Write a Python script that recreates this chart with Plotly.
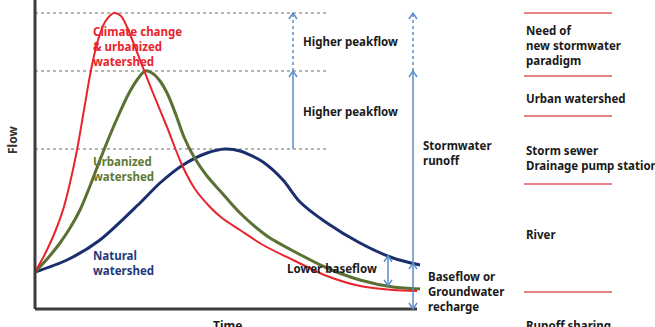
import numpy as np
import plotly.graph_objects as go

# ---- data (time, flow) ----
red_t = [0, 10, 20, 28, 35, 42, 49, 56, 63, 70, 79, 86, 92, 105, 118, 132, 147, 160, 175, 187, 205, 228, 258, 292, 325, 358, 382]
red_f = [37, 55, 77, 99, 126, 159, 199, 239, 269, 287, 296, 293, 282, 249, 216, 182, 144, 120, 102, 91, 79, 64, 49, 33, 23, 19, 18]

green_t = [0, 13, 25, 35, 45, 55, 65, 75, 85, 93, 102, 110, 117, 125, 133, 141, 149, 159, 172, 187, 205, 232, 262, 292, 325, 358, 385]
green_f = [37, 51, 66, 81, 99, 123, 149, 174, 197, 214, 229, 238, 236, 228, 214, 194, 172, 152, 133, 116, 96, 73, 56, 41, 29, 22, 20]

blue_t = [0, 32, 65, 105, 125, 148, 172, 190, 205, 228, 248, 265, 292, 325, 358, 385]
blue_f = [37, 49, 69, 106, 126, 144, 156, 160, 158, 147, 129, 107, 86, 66, 51, 44]

series_names = ["Climate change<br>& urbanized<br>watershed", "Urbanized<br>watershed", "Natural<br>watershed"]
right_labels = ["Need of<br>new stormwater<br>paradigm", "Urban watershed",
                "Storm sewer<br>Drainage pump station", "River"]
right_label_flow = [263.5, 211, 151.5, 75]
bottom_right_label = "Runoff sharing"
sep_flow = [296, 233, 193, 125, 17]

RED = "#e8232b"
GREEN = "#5b7033"
BLUE = "#1b2f6e"
ARROW = "#5b8dc8"
AX = "#3c3c3c"
FONT = "Noto Sans"

fig = go.Figure()

sm = 0.8
fig.add_trace(go.Scatter(x=blue_t, y=blue_f, mode="lines", line=dict(color=BLUE, width=3, shape="spline", smoothing=sm), hoverinfo="skip"))
fig.add_trace(go.Scatter(x=green_t, y=green_f, mode="lines", line=dict(color=GREEN, width=3, shape="spline", smoothing=sm), hoverinfo="skip"))
fig.add_trace(go.Scatter(x=red_t, y=red_f, mode="lines", line=dict(color=RED, width=2, shape="spline", smoothing=sm), hoverinfo="skip"))

red_pk, green_pk, blue_pk = max(red_f), max(green_f), max(blue_f)
t_end = max(red_t)

shapes = []
shapes.append(dict(type="line", x0=0, x1=t_end, y0=0, y1=0, line=dict(color=AX, width=3)))
shapes.append(dict(type="line", x0=0, x1=0, y0=0, y1=320, line=dict(color=AX, width=3)))
for pk in (red_pk, green_pk, blue_pk):
    shapes.append(dict(type="line", x0=0, x1=293, y0=pk, y1=pk, line=dict(color="#b4b4b4", width=2, dash="dot"), layer="below"))

def chevron(x, y, up=True, hw=4, h=6):
    d = -h if up else h
    return dict(type="path", path=f"M {x-hw},{y+d} L {x},{y} L {x+hw},{y+d}",
                line=dict(color=ARROW, width=1.5))

xa = 258
shapes.append(dict(type="line", x0=xa, x1=xa, y0=green_pk, y1=red_pk, line=dict(color=ARROW, width=1.5, dash="dot")))
shapes.append(dict(type="line", x0=xa, x1=xa, y0=blue_pk, y1=green_pk, line=dict(color=ARROW, width=1.5)))
shapes.append(chevron(xa, red_pk))
shapes.append(chevron(xa, green_pk))

xb = 378
blue_at_b = float(np.interp(xb, blue_t, blue_f))
shapes.append(dict(type="line", x0=xb, x1=xb, y0=green_pk, y1=red_pk, line=dict(color=ARROW, width=1.5, dash="dot")))
shapes.append(dict(type="line", x0=xb, x1=xb, y0=0, y1=green_pk, line=dict(color=ARROW, width=1.5)))
shapes.append(chevron(xb, red_pk))
shapes.append(chevron(xb, green_pk))
shapes.append(chevron(xb, blue_at_b))
shapes.append(chevron(xb, 0, up=False))

xc = 353
g_c = float(np.interp(xc, green_t, green_f))
b_c = float(np.interp(xc, blue_t, blue_f))
shapes.append(dict(type="line", x0=xc, x1=xc, y0=g_c, y1=b_c, line=dict(color=ARROW, width=1.5)))
shapes.append(chevron(xc, b_c))
shapes.append(chevron(xc, g_c, up=False))

for f in sep_flow:
    shapes.append(dict(type="line", x0=489, x1=577, y0=f, y1=f, line=dict(color="#e05a5a", width=1.5)))

FS = 11.5
ann = []
def txt(x, y, s, color="#1a1a1a", size=FS, xanchor="left", yanchor="middle", **kw):
    ann.append(dict(x=x, y=y, text=f"<b>{s}</b>", showarrow=False, xanchor=xanchor, yanchor=yanchor,
                    align="left", font=dict(family=FONT, size=size, color=color), **kw))

txt(56, 263, series_names[0], RED)
txt(56, 140, series_names[1], "#5e7a35")
txt(56, 46, series_names[2], "#1f3a7a")
txt(266, 268, "Higher peakflow")
txt(266, 198, "Higher peakflow")
txt(386, 156.5, "Stormwater<br>runoff")
txt(250, 41, "Lower baseflow")
txt(391, 18, "Baseflow or<br>Groundwater<br>recharge")
for lab, f in zip(right_labels, right_label_flow):
    txt(489, f, lab)
txt(489, (327 - 316) / 327, bottom_right_label, yanchor="top", yref="paper")
txt(192, (327 - 315) / 327, "Time", "#1a1a1a", 12, xanchor="center", yanchor="top", yref="paper")
ann.append(dict(x=-23, y=169, text="<b>Flow</b>", showarrow=False, textangle=-90,
                font=dict(family=FONT, size=12, color="#333333")))

fig.update_layout(
    width=655, height=327, margin=dict(l=0, r=0, t=0, b=0),
    paper_bgcolor="white", plot_bgcolor="white", showlegend=False,
    xaxis=dict(range=[-35, 620], visible=False, fixedrange=True),
    yaxis=dict(range=[-18, 309], visible=False, fixedrange=True),
    shapes=shapes, annotations=ann,
)
fig.write_html("out.html")
